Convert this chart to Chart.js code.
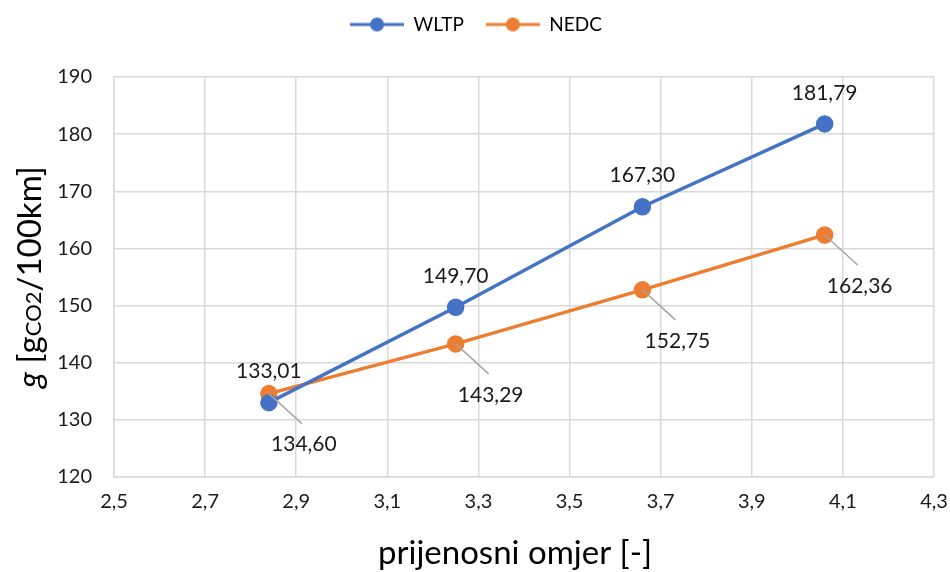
<!DOCTYPE html>
<html>
<head>
<meta charset="utf-8">
<script src="https://cdn.jsdelivr.net/npm/chart.js@4"></script>
<style>
  html, body { margin: 0; padding: 0; background: #fff; }
  #wrap { width: 950px; height: 572px; }
</style>
</head>
<body>
<div id="wrap"><canvas id="myChart" width="950" height="572"></canvas></div>
<script>
// values
const ratios = [2.84, 3.25, 3.66, 4.06];
const wltp = [133.01, 149.70, 167.30, 181.79];
const nedc = [134.60, 143.29, 152.75, 162.36];
const xTicks = [2.5, 2.7, 2.9, 3.1, 3.3, 3.5, 3.7, 3.9, 4.1, 4.3];
const yTicks = [120, 130, 140, 150, 160, 170, 180, 190];

const FONT = "Lato, 'Open Sans', sans-serif";
const BLUE = "#4472C4";
const ORANGE = "#ED7D31";

const comma = (v, d) => v.toFixed(d).replace(".", ",");

function legendIcon(color) {
  const c = document.createElement("canvas");
  c.width = 54; c.height = 16;
  const g = c.getContext("2d");
  g.strokeStyle = color; g.lineWidth = 3;
  g.beginPath(); g.moveTo(0, 8); g.lineTo(54, 8); g.stroke();
  g.fillStyle = color;
  g.beginPath(); g.arc(27, 8, 7, 0, Math.PI * 2); g.fill();
  return c;
}

// leave room under the legend so the plot starts lower, and nudge it right
const legendGap = {
  id: "legendGap",
  afterInit(chart) {
    const lg = chart.legend;
    if (!lg) return;
    const fit = lg.fit;
    lg.fit = function () { fit.call(this); this.height += 33; };
    const draw = lg.draw;
    lg.draw = function () {
      this.ctx.save();
      this.ctx.translate(9, 0);
      draw.call(this);
      this.ctx.restore();
    };
  }
};

const pointLabels = {
  id: "pointLabels",
  afterDatasetsDraw(chart) {
    const ctx = chart.ctx;
    ctx.save();
    ctx.font = "21px " + FONT;
    ctx.fillStyle = "#1a1a1a";
    ctx.textAlign = "center";
    ctx.textBaseline = "middle";
    chart.data.datasets.forEach((ds, i) => {
      chart.getDatasetMeta(i).data.forEach((pt, j) => {
        const txt = comma(ds.data[j].y, 2);
        if (ds.labelPos === "above") {
          ctx.fillText(txt, pt.x, pt.y - 31);
        } else {
          ctx.strokeStyle = "#a6a6a6";
          ctx.lineWidth = 1.5;
          ctx.beginPath();
          ctx.moveTo(pt.x, pt.y);
          ctx.lineTo(pt.x + 33, pt.y + 30);
          ctx.stroke();
          ctx.fillText(txt, pt.x + 35, pt.y + 51);
        }
      });
    });
    ctx.restore();
  }
};

// axis titles (y title mixes italic, normal and small text)
const axisTitles = {
  id: "axisTitles",
  afterDraw(chart) {
    const ctx = chart.ctx;
    const a = chart.chartArea;
    ctx.save();
    ctx.fillStyle = "#000";
    ctx.font = "33px " + FONT;
    ctx.textAlign = "center";
    ctx.textBaseline = "middle";
    ctx.fillText("prijenosni omjer [-]", (a.left + a.right) / 2 - 9, 553);

    const parts = [
      { t: "g", f: "italic 33px " + FONT },
      { t: " [g", f: "33px " + FONT },
      { t: "CO2", f: "22px " + FONT },
      { t: "/100km]", f: "33px " + FONT }
    ];
    let total = 0;
    parts.forEach(p => { ctx.font = p.f; p.w = ctx.measureText(p.t).width; total += p.w; });
    ctx.translate(30, (a.top + a.bottom) / 2);
    ctx.rotate(-Math.PI / 2);
    ctx.textAlign = "left";
    ctx.textBaseline = "alphabetic";
    let x = -total / 2;
    parts.forEach(p => { ctx.font = p.f; ctx.fillText(p.t, x, 11); x += p.w; });
    ctx.restore();
  }
};

new Chart(document.getElementById("myChart"), {
  type: "line",
  data: {
    datasets: [
      {
        label: "WLTP",
        data: ratios.map((x, i) => ({ x: x, y: wltp[i] })),
        borderColor: BLUE, backgroundColor: BLUE,
        borderWidth: 3.5, pointRadius: 7, pointHoverRadius: 7,
        labelPos: "above"
      },
      {
        label: "NEDC",
        data: ratios.map((x, i) => ({ x: x, y: nedc[i] })),
        borderColor: ORANGE, backgroundColor: ORANGE,
        borderWidth: 3.5, pointRadius: 7, pointHoverRadius: 7,
        labelPos: "below"
      }
    ]
  },
  options: {
    responsive: false,
    animation: false,
    layout: { padding: { top: -7, right: 16, left: 0, bottom: 0 } },
    plugins: {
      tooltip: { enabled: false },
      legend: {
        position: "top",
        labels: {
          usePointStyle: true,
          pointStyleWidth: 54,
          boxHeight: 16,
          padding: 22,
          color: "#000",
          font: { family: FONT, size: 19 },
          generateLabels(chart) {
            return chart.data.datasets.map((ds, i) => ({
              text: ds.label,
              pointStyle: legendIcon(ds.borderColor),
              fillStyle: ds.borderColor,
              strokeStyle: ds.borderColor,
              lineWidth: 0,
              datasetIndex: i
            }));
          }
        }
      }
    },
    scales: {
      x: {
        type: "linear",
        min: 2.5, max: 4.3,
        afterBuildTicks: s => { s.ticks = xTicks.map(v => ({ value: v })); },
        afterFit: s => { s.height = 95; s.paddingLeft = 0; s.paddingRight = 0; },
        grid: { color: "#d9d9d9", lineWidth: 1.5, drawTicks: false },
        border: { color: "#d9d9d9", width: 1.5 },
        ticks: {
          padding: 13, color: "#1a1a1a", maxRotation: 0,
          font: { family: FONT, size: 20 },
          callback: v => comma(v, 1)
        }
      },
      y: {
        min: 120, max: 190,
        afterBuildTicks: s => { s.ticks = yTicks.map(v => ({ value: v })); },
        afterFit: s => { s.width = 114; },
        grid: { color: "#d9d9d9", lineWidth: 1.5, drawTicks: false },
        border: { color: "#d9d9d9", width: 1.5 },
        ticks: {
          padding: 22, color: "#1a1a1a",
          font: { family: FONT, size: 20 }
        }
      }
    }
  },
  plugins: [legendGap, pointLabels, axisTitles]
});
</script>
</body>
</html>
